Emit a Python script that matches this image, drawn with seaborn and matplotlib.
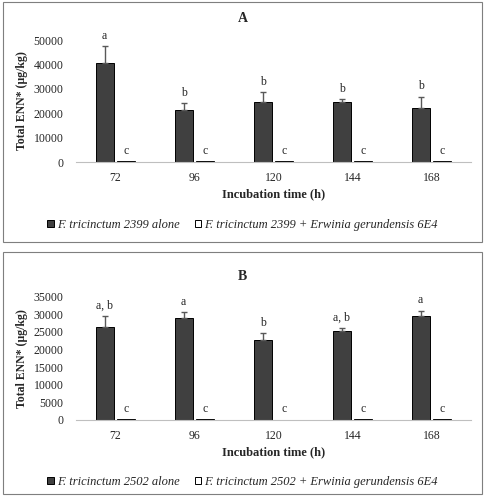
import numpy as np
import pandas as pd
import matplotlib
matplotlib.use("Agg")
import matplotlib.pyplot as plt
from matplotlib.patches import Rectangle
import seaborn as sns

# Data
times = ["72", "96", "120", "144", "168"]

a_alone = [40500, 21300, 24600, 24700, 22300]
a_alone_err = [7000, 3000, 4200, 1000, 4500]
a_mix = [500, 400, 450, 350, 450]
a_letters_alone = ["a", "b", "b", "b", "b"]
a_letters_mix = ["c", "c", "c", "c", "c"]
a_labels = ["F. tricinctum 2399 alone", "F. tricinctum 2399 + Erwinia gerundensis 6E4"]

b_alone = [26450, 28850, 22700, 25200, 29450]
b_alone_err = [3100, 1700, 1900, 1050, 1600]
b_mix = [150, 150, 120, 200, 150]
b_letters_alone = ["a, b", "a", "b", "a, b", "a"]
b_letters_mix = ["c", "c", "c", "c", "c"]
b_labels = ["F. tricinctum 2502 alone", "F. tricinctum 2502 + Erwinia gerundensis 6E4"]

sns.set_theme(style="white")
plt.rcParams['font.family'] = ['Liberation Serif', 'DejaVu Serif']

SERIF = "Liberation Serif"
DARK = "#404040"


def draw_panel(fig, rect, title, alone, alone_err, mix, let_alone, let_mix, labels,
               ymax, ystep, legend_y, title_y):
    ax = fig.add_axes(rect)
    df = pd.DataFrame({
        "time": times * 2,
        "value": list(alone) + list(mix),
        "group": [labels[0]] * len(times) + [labels[1]] * len(times),
    })
    sns.barplot(data=df, x="time", y="value", hue="group", order=times,
                hue_order=labels, palette=[DARK, "white"], width=0.55, gap=0.18,
                edgecolor="black", linewidth=0.7, errorbar=None, ax=ax, legend=True)

    dark_bars = ax.containers[0]
    light_bars = ax.containers[1]
    xs_d = [p.get_x() + p.get_width() / 2 for p in dark_bars]
    xs_l = [p.get_x() + p.get_width() / 2 for p in light_bars]
    ax.errorbar(xs_d, alone, yerr=[np.zeros(len(alone)), alone_err], fmt="none",
                ecolor="#595959", elinewidth=1.0, capsize=2.5, capthick=1.0, clip_on=False)

    for x, v, e, t in zip(xs_d, alone, alone_err, let_alone):
        ax.annotate(t, (x, v + e), xytext=(0, 3), textcoords="offset points",
                    ha="center", va="bottom", fontsize=8.5, family=SERIF, annotation_clip=False)
    for x, v, t in zip(xs_l, mix, let_mix):
        ax.annotate(t, (x, v), xytext=(0, 3), textcoords="offset points",
                    ha="center", va="bottom", fontsize=8.5, family=SERIF, annotation_clip=False)

    ax.set_xlim(-0.5, len(times) - 0.5)
    ax.set_ylim(0, ymax)
    ax.set_yticks(np.arange(0, ymax + 1, ystep))
    ax.tick_params(axis="both", length=0, labelsize=8.5)
    ax.tick_params(axis="y", pad=9)
    ax.tick_params(axis="x", pad=7)
    for lab in ax.get_xticklabels() + ax.get_yticklabels():
        lab.set_family(SERIF)
    for s in ["top", "right", "left"]:
        ax.spines[s].set_visible(False)
    ax.spines["bottom"].set_color("#bfbfbf")
    ax.spines["bottom"].set_linewidth(0.8)
    ax.set_xlabel("Incubation time (h)", fontsize=9, fontweight="bold", family=SERIF, labelpad=3)
    ax.set_ylabel("Total ENN* (µg/kg)", fontsize=8.5, fontweight="bold", family=SERIF, labelpad=4)
    fig.text(0.5, title_y, title, ha="center", va="center", fontsize=10,
             fontweight="bold", family=SERIF)

    handles, _ = ax.get_legend_handles_labels()
    ax.get_legend().remove()
    fig.legend(handles, labels, loc="center", bbox_to_anchor=(0.5, legend_y), ncol=2,
               frameon=False, prop={"family": SERIF, "style": "italic", "size": 9},
               handlelength=0.55, handleheight=0.55, handletextpad=0.25, columnspacing=1.2)
    return ax


fig = plt.figure(figsize=(4.85, 5.0), dpi=100)

# panel frames
fig.add_artist(Rectangle((3 / 485, 1 - 242 / 500), 479 / 485, 240 / 500,
                         transform=fig.transFigure, fill=False, edgecolor="#7f7f7f", linewidth=0.8))
fig.add_artist(Rectangle((3 / 485, 1 - 494 / 500), 479 / 485, 242 / 500,
                         transform=fig.transFigure, fill=False, edgecolor="#7f7f7f", linewidth=0.8))

draw_panel(fig, [76 / 485, 1 - 162 / 500, 395 / 485, 122 / 500], "A",
           a_alone, a_alone_err, a_mix, a_letters_alone, a_letters_mix, a_labels,
           50000, 10000, 1 - 225 / 500, 1 - 18 / 500)
draw_panel(fig, [76 / 485, 1 - 420 / 500, 395 / 485, 123.3 / 500], "B",
           b_alone, b_alone_err, b_mix, b_letters_alone, b_letters_mix, b_labels,
           35000, 5000, 1 - 482 / 500, 1 - 276 / 500)

fig.savefig("out.png", dpi=100)
